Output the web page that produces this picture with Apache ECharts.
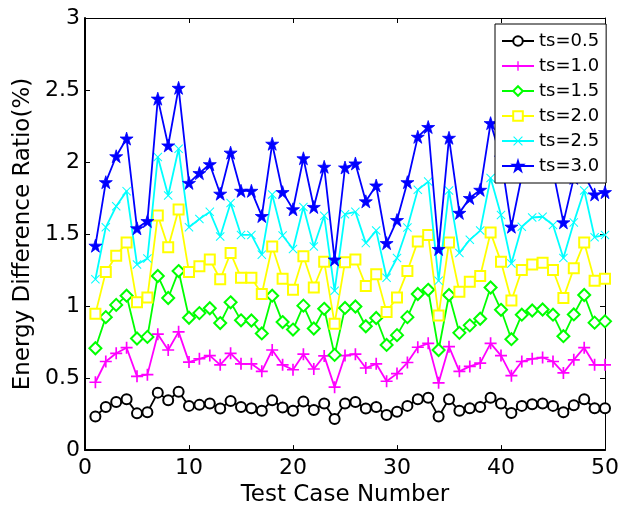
<!DOCTYPE html>
<html>
<head>
<meta charset="utf-8">
<script src="https://cdn.jsdelivr.net/npm/echarts@6/dist/echarts.min.js"></script>
<style>
  html, body { margin: 0; padding: 0; background: #fff; }
  #chart { width: 630px; height: 512px; }
</style>
</head>
<body>
<div id="chart"></div>
<script>
// Energy difference ratio (%) for each test case, one array per ts value
const ts05 = [0.234, 0.30, 0.334, 0.353, 0.255, 0.262, 0.399, 0.346, 0.405, 0.307,
    0.314, 0.323, 0.289, 0.341, 0.30, 0.291, 0.273, 0.346, 0.296, 0.273,
    0.337, 0.279, 0.323, 0.216, 0.323, 0.334, 0.289, 0.30, 0.243, 0.266,
    0.307, 0.353, 0.364, 0.234, 0.353, 0.273, 0.291, 0.30, 0.364, 0.323,
    0.257, 0.307, 0.318, 0.323, 0.307, 0.262, 0.312, 0.353, 0.291, 0.291];
const ts10 = [0.471, 0.615, 0.672, 0.711, 0.512, 0.524, 0.805, 0.695, 0.821, 0.611,
    0.634, 0.656, 0.592, 0.672, 0.599, 0.599, 0.547, 0.695, 0.592, 0.558,
    0.666, 0.563, 0.654, 0.437, 0.656, 0.666, 0.57, 0.599, 0.478, 0.531,
    0.608, 0.714, 0.741, 0.467, 0.718, 0.547, 0.581, 0.604, 0.741, 0.656,
    0.517, 0.615, 0.634, 0.643, 0.615, 0.536, 0.627, 0.711, 0.592, 0.592];
const ts15 = [0.707, 0.923, 1.008, 1.072, 0.775, 0.786, 1.209, 1.056, 1.243, 0.919,
    0.951, 0.985, 0.882, 1.026, 0.901, 0.90, 0.81, 1.072, 0.889, 0.837,
    1.003, 0.844, 0.981, 0.661, 0.987, 0.997, 0.86, 0.917, 0.73, 0.798,
    0.923, 1.084, 1.113, 0.695, 1.077, 0.814, 0.866, 0.912, 1.129, 0.974,
    0.77, 0.94, 0.969, 0.976, 0.94, 0.791, 0.942, 1.077, 0.885, 0.894];
const ts20 = [0.946, 1.236, 1.35, 1.442, 1.026, 1.06, 1.629, 1.408, 1.67, 1.236,
    1.277, 1.323, 1.186, 1.368, 1.197, 1.197, 1.084, 1.414, 1.19, 1.113,
    1.346, 1.129, 1.307, 0.878, 1.305, 1.323, 1.14, 1.221, 0.958, 1.06,
    1.243, 1.449, 1.494, 0.935, 1.442, 1.099, 1.168, 1.209, 1.51, 1.307,
    1.038, 1.25, 1.289, 1.30, 1.25, 1.056, 1.262, 1.442, 1.175, 1.19];
const ts25 = [1.186, 1.547, 1.693, 1.798, 1.289, 1.33, 2.035, 1.768, 2.092, 1.547,
    1.604, 1.654, 1.483, 1.716, 1.494, 1.494, 1.357, 1.775, 1.49, 1.396,
    1.688, 1.414, 1.627, 1.106, 1.638, 1.654, 1.437, 1.524, 1.197, 1.334,
    1.545, 1.807, 1.864, 1.175, 1.803, 1.369, 1.46, 1.524, 1.889, 1.632,
    1.296, 1.551, 1.615, 1.62, 1.563, 1.334, 1.581, 1.803, 1.478, 1.494];
const ts30 = [1.419, 1.86, 2.04, 2.163, 1.54, 1.59, 2.44, 2.115, 2.515, 1.855,
    1.923, 1.985, 1.78, 2.065, 1.80, 1.80, 1.625, 2.127, 1.791, 1.672,
    2.026, 1.688, 1.967, 1.323, 1.962, 1.99, 1.727, 1.837, 1.437, 1.597,
    1.86, 2.175, 2.243, 1.396, 2.168, 1.647, 1.75, 1.807, 2.27, 2.03,
    1.551, 1.905, 2.0, 2.05, 1.94, 1.581, 1.89, 1.91, 1.775, 1.791];

const seriesNames = ["ts=0.5", "ts=1.0", "ts=1.5", "ts=2.0", "ts=2.5", "ts=3.0"];
const seriesValues = [ts05, ts10, ts15, ts20, ts25, ts30];

// marker shapes (MATLAB style)
const plusPath = "path://M8.6,0 H11.4 V8.6 H20 V11.4 H11.4 V20 H8.6 V11.4 H0 V8.6 H8.6 Z";
const crossPath = "path://M0,1.6 L1.6,0 L10,8.4 L18.4,0 L20,1.6 L11.6,10 L20,18.4 L18.4,20 L10,11.6 L1.6,20 L0,18.4 L8.4,10 Z";
const starPath = "path://M10,0 L12.245,6.91 L19.51,6.91 L13.633,11.18 L15.88,18.09 L10,13.82 L4.12,18.09 L6.367,11.18 L0.49,6.91 L7.755,6.91 Z";

const styles = [
    { color: "#000000", symbol: "emptyCircle", size: 10, border: 1.5 },
    { color: "#ff00ff", symbol: plusPath, size: 12, border: 0 },
    { color: "#00ff00", symbol: "emptyDiamond", size: 12, border: 1.5 },
    { color: "#ffff00", symbol: "emptyRect", size: 10, border: 1.5 },
    { color: "#00ffff", symbol: crossPath, size: 9, border: 0 },
    { color: "#0000ff", symbol: starPath, size: 13, border: 0.8 },
];

const font = "DejaVu Sans";

const chart = echarts.init(document.getElementById("chart"), null, { renderer: "canvas" });

const series = seriesValues.map((vals, s) => ({
    name: seriesNames[s],
    type: "line",
    data: vals.map((v, i) => [i + 1, v]),
    symbol: styles[s].symbol,
    symbolSize: styles[s].size,
    showAllSymbol: true,
    lineStyle: { color: styles[s].color, width: 1.8 },
    itemStyle: { color: styles[s].color, borderColor: styles[s].color, borderWidth: styles[s].border },
    emphasis: { disabled: true },
    animation: false,
    z: 2 + s * 0.01,
}));

const axisCommon = {
    type: "value",
    axisLine: { show: true, onZero: false, lineStyle: { color: "#000", width: 2 } },
    axisTick: { show: true, inside: true, length: 5, lineStyle: { color: "#000", width: 1 } },
    splitLine: { show: false },
};

const option = {
    backgroundColor: "#fff",
    animation: false,
    textStyle: { fontFamily: font, color: "#000" },
    grid: { left: 85, right: 25, top: 18, bottom: 56 },
    legend: {
        data: seriesNames,
        orient: "vertical",
        left: 495,
        top: 24,
        backgroundColor: "#fff",
        borderColor: "#000",
        borderWidth: 1,
        borderRadius: 0,
        padding: [8, 7, 8, 6],
        itemGap: 7,
        itemWidth: 32,
        itemHeight: 12,
        textStyle: { fontSize: 18, fontFamily: font, color: "#000", padding: [0, 0, 0, 0] },
        z: 10,
    },
    xAxis: [
        Object.assign({}, axisCommon, {
            min: 0, max: 50, interval: 10,
            name: "Test Case Number",
            nameLocation: "middle",
            nameGap: 27,
            nameTextStyle: { fontSize: 23, fontFamily: font, color: "#000" },
            axisLabel: { fontSize: 22, fontFamily: font, color: "#000", margin: 7 },
        }),
        Object.assign({}, axisCommon, {
            min: 0, max: 50, interval: 10, position: "top",
            axisLine: { show: true, onZero: false, lineStyle: { color: "#000", width: 1 } },
            axisLabel: { show: false },
        }),
    ],
    yAxis: [
        Object.assign({}, axisCommon, {
            min: 0, max: 3, interval: 0.5,
            name: "Energy Difference Ratio(%)",
            nameLocation: "middle",
            nameGap: 47,
            nameTextStyle: { fontSize: 23, fontFamily: font, color: "#000" },
            axisLabel: { fontSize: 22, fontFamily: font, color: "#000", margin: 5 },
        }),
        Object.assign({}, axisCommon, {
            min: 0, max: 3, interval: 0.5, position: "right",
            axisLine: { show: true, onZero: false, lineStyle: { color: "#000", width: 1 } },
            axisLabel: { show: false },
        }),
    ],
    series: series,
};

chart.setOption(option);
</script>
</body>
</html>
